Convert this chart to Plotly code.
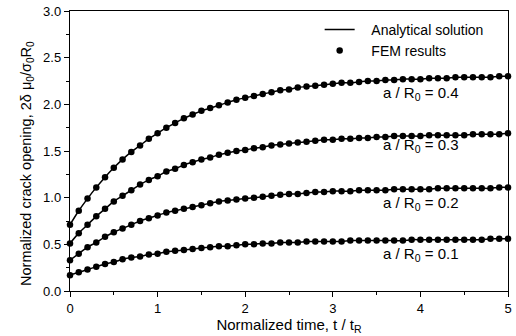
import plotly.graph_objects as go

t = [round(i * 0.1, 1) for i in range(51)]

y04 = [0.71, 0.86, 0.99, 1.11, 1.22, 1.32, 1.41, 1.49, 1.56, 1.63, 1.69,
       1.75, 1.80, 1.85, 1.89, 1.93, 1.96, 1.99, 2.02, 2.05, 2.07,
       2.09, 2.11, 2.13, 2.15, 2.16, 2.18, 2.19, 2.20, 2.21, 2.22,
       2.23, 2.23, 2.24, 2.25, 2.25, 2.26, 2.26, 2.27, 2.27, 2.27,
       2.28, 2.28, 2.28, 2.29, 2.29, 2.29, 2.29, 2.29, 2.30, 2.30]
y03 = [0.51, 0.62, 0.71, 0.80, 0.88, 0.96, 1.02, 1.08, 1.14, 1.19, 1.23,
       1.28, 1.31, 1.35, 1.38, 1.41, 1.43, 1.46, 1.48, 1.50, 1.51,
       1.53, 1.54, 1.56, 1.57, 1.58, 1.59, 1.60, 1.61, 1.62, 1.62,
       1.63, 1.63, 1.64, 1.64, 1.65, 1.65, 1.66, 1.66, 1.66, 1.66,
       1.67, 1.67, 1.67, 1.67, 1.67, 1.68, 1.68, 1.68, 1.68, 1.69]
y02 = [0.33, 0.40, 0.47, 0.52, 0.58, 0.63, 0.67, 0.71, 0.75, 0.78, 0.81,
       0.84, 0.86, 0.88, 0.90, 0.92, 0.94, 0.96, 0.97, 0.98, 0.99,
       1.00, 1.01, 1.02, 1.03, 1.04, 1.04, 1.05, 1.06, 1.06, 1.07,
       1.07, 1.07, 1.08, 1.08, 1.08, 1.08, 1.09, 1.09, 1.09, 1.09,
       1.09, 1.10, 1.10, 1.10, 1.10, 1.10, 1.10, 1.10, 1.11, 1.11]
y01 = [0.17, 0.20, 0.23, 0.26, 0.29, 0.31, 0.34, 0.36, 0.37, 0.39, 0.40,
       0.42, 0.43, 0.44, 0.45, 0.46, 0.47, 0.48, 0.48, 0.49, 0.50,
       0.50, 0.51, 0.51, 0.52, 0.52, 0.52, 0.53, 0.53, 0.53, 0.53,
       0.53, 0.54, 0.54, 0.54, 0.54, 0.54, 0.54, 0.54, 0.55, 0.55,
       0.55, 0.55, 0.55, 0.55, 0.55, 0.55, 0.55, 0.56, 0.56, 0.56]

series = [y04, y03, y02, y01]
labels = ["a / R<sub>0</sub> = 0.4", "a / R<sub>0</sub> = 0.3",
          "a / R<sub>0</sub> = 0.2", "a / R<sub>0</sub> = 0.1"]
label_x = [4.0, 4.0, 4.0, 4.0]
label_y = [2.12, 1.56, 0.94, 0.39]

x_ticks = [0, 1, 2, 3, 4, 5]
y_ticks = [0.0, 0.5, 1.0, 1.5, 2.0, 2.5, 3.0]

x_title = "Normalized time, t / t<sub>R</sub>"
y_title = "Normalized crack opening, 2δ μ<sub>0</sub>/σ<sub>0</sub>R<sub>0</sub>"

FONT = "Liberation Sans, Arial, sans-serif"

fig = go.Figure()
for i, ys in enumerate(series):
    fig.add_trace(go.Scatter(
        x=t, y=ys, mode="lines", line=dict(color="black", width=1.5, shape="spline"),
        name="&nbsp;&nbsp;&nbsp;Analytical solution", showlegend=(i == 0),
        legendrank=1, cliponaxis=False))
for i, ys in enumerate(series):
    fig.add_trace(go.Scatter(
        x=t, y=ys, mode="markers", marker=dict(color="black", size=6.5),
        name="&nbsp;&nbsp;&nbsp;FEM results", showlegend=(i == 0),
        legendrank=2, cliponaxis=False))

for lx, ly, txt in zip(label_x, label_y, labels):
    fig.add_annotation(x=lx, y=ly, text=txt, showarrow=False,
                       font=dict(size=15, color="black", family=FONT))

# y-axis title placed as a rotated annotation (slightly below plot centre, as in the reference)
fig.add_annotation(xref="paper", yref="paper", x=-0.098, y=0.454, text=y_title,
                   textangle=-90, showarrow=False, xanchor="center", yanchor="middle",
                   font=dict(size=14.5, color="black", family=FONT))

axis_common = dict(showline=True, linecolor="black", linewidth=1.4, mirror=True,
                   ticks="outside", ticklen=5, tickcolor="black", showgrid=False,
                   zeroline=False, automargin=False,
                   tickfont=dict(size=13, color="black", family=FONT))

fig.update_xaxes(range=[0, 5], tickvals=x_ticks, ticktext=[str(v) for v in x_ticks],
                 title=dict(text=x_title,
                            font=dict(size=15, color="black", family=FONT), standoff=1),
                 minor=dict(tickvals=[0.5, 1.5, 2.5, 3.5, 4.5], ticklen=3,
                            ticks="outside", tickcolor="black"),
                 **axis_common)
fig.update_yaxes(range=[0, 3], tickvals=y_ticks, ticktext=[f"{v:.1f}" for v in y_ticks],
                 minor=dict(tickvals=[0.25, 0.75, 1.25, 1.75, 2.25, 2.75], ticklen=3,
                            ticks="outside", tickcolor="black"),
                 **axis_common)

fig.update_layout(
    width=516, height=336,
    margin=dict(l=70, r=8, t=11, b=45),
    paper_bgcolor="white", plot_bgcolor="white",
    font=dict(family=FONT, color="black"),
    legend=dict(x=0.57, y=0.99, xanchor="left", yanchor="top",
                bgcolor="rgba(0,0,0,0)", font=dict(size=14, family=FONT),
                tracegroupgap=0, itemsizing="trace"),
)

fig.write_html("out.html", config={"displayModeBar": False},
               post_script="document.body.style.margin='0';")
